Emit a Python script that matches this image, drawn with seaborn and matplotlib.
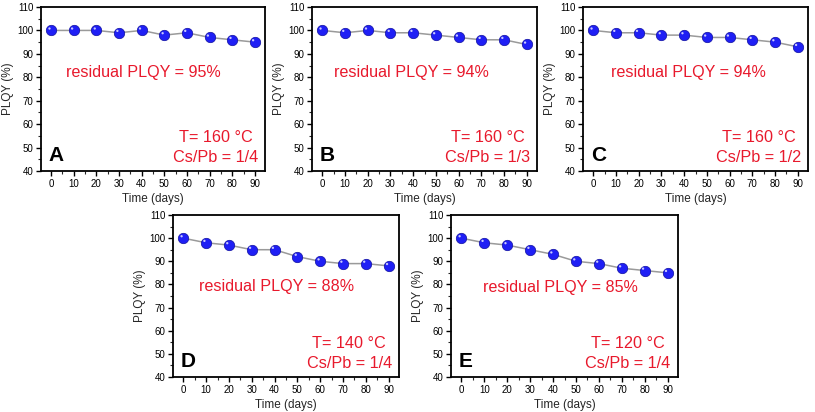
import numpy as np
import pandas as pd
import matplotlib
matplotlib.use("Agg")
import matplotlib.pyplot as plt
from matplotlib.path import Path
from matplotlib.markers import MarkerStyle
from matplotlib.ticker import MultipleLocator
import seaborn as sns

days = [0, 10, 20, 30, 40, 50, 60, 70, 80, 90]
plqy_A = [100, 100, 100, 99, 100, 98, 99, 97, 96, 95]
plqy_B = [100, 99, 100, 99, 99, 98, 97, 96, 96, 94]
plqy_C = [100, 99, 99, 98, 98, 97, 97, 96, 95, 93]
plqy_D = [100, 98, 97, 95, 95, 92, 90, 89, 89, 88]
plqy_E = [100, 98, 97, 95, 93, 90, 89, 87, 86, 85]
panel_letters = ["A", "B", "C", "D", "E"]
residual_texts = ["residual PLQY = 95%", "residual PLQY = 94%", "residual PLQY = 94%",
                  "residual PLQY = 88%", "residual PLQY = 85%"]
temp_texts = ["T= 160 °C", "T= 160 °C", "T= 160 °C", "T= 140 °C", "T= 120 °C"]
ratio_texts = ["Cs/Pb = 1/4", "Cs/Pb = 1/3", "Cs/Pb = 1/2", "Cs/Pb = 1/4", "Cs/Pb = 1/4"]
series = [plqy_A, plqy_B, plqy_C, plqy_D, plqy_E]

sns.set_style("ticks")
plt.rcParams["font.family"] = ["Liberation Sans", "DejaVu Sans"]

W, H = 815, 412
fig = plt.figure(figsize=(W / 100, H / 100), dpi=100)

# axes boxes in pixels: left, top, right, bottom
boxes = [
    (41, 7, 265, 171),
    (312, 7, 537, 171),
    (583, 7, 808, 171),
    (173, 215, 399, 377),
    (451, 215, 678, 377),
]
res_pos = [(0.455, 0.60), (0.44, 0.60), (0.47, 0.60), (0.46, 0.556), (0.48, 0.55)]

# highlight marker path (small offset circle, with invisible anchor to keep scale)
circ = Path.circle(center=(-0.32, 0.36), radius=0.22)
verts = np.vstack([[[1.0, 1.0]], [[-1.0, -1.0]], circ.vertices])
codes = np.concatenate([[Path.MOVETO, Path.MOVETO], circ.codes])
hl_marker = MarkerStyle(Path(verts, codes))

red = "#e8192c"
blue = "#1f1ff5"

for i, (b, ys) in enumerate(zip(boxes, series)):
    l, t, r, bt = b
    ax = fig.add_axes([l / W, 1 - bt / H, (r - l) / W, (bt - t) / H])
    df = pd.DataFrame({"Time (days)": days, "PLQY (%)": ys})
    sns.lineplot(data=df, x="Time (days)", y="PLQY (%)", ax=ax, color="#9a9a9a",
                 linewidth=1.1, marker="o", markersize=7.5,
                 markerfacecolor=blue, markeredgecolor="#1010a0", markeredgewidth=0.5)
    sns.scatterplot(data=df, x="Time (days)", y="PLQY (%)", ax=ax, marker=hl_marker,
                    s=58, color="#c8c8ff", edgecolor="none", linewidth=0, zorder=5)
    ax.set_xlim(-4.5, 94.5)
    ax.set_ylim(40, 110)
    ax.xaxis.set_major_locator(MultipleLocator(10))
    ax.xaxis.set_minor_locator(MultipleLocator(5))
    ax.yaxis.set_major_locator(MultipleLocator(10))
    ax.yaxis.set_minor_locator(MultipleLocator(5))
    ax.tick_params(which="major", direction="out", length=3.5, width=1.0,
                   labelsize=7, pad=2, colors="black")
    ax.tick_params(which="minor", direction="out", length=2, width=0.8)
    for sp in ax.spines.values():
        sp.set_visible(True)
        sp.set_linewidth(1.3)
        sp.set_color("black")
    ax.set_xlabel("Time (days)", fontsize=8.5, labelpad=3)
    ax.set_ylabel("PLQY (%)", fontsize=8.5, labelpad=2)
    ax.text(res_pos[i][0], res_pos[i][1], residual_texts[i], transform=ax.transAxes,
            ha="center", va="center", color=red, fontsize=11.6)
    ax.text(0.78, 0.205, temp_texts[i], transform=ax.transAxes,
            ha="center", va="center", color=red, fontsize=11.7)
    ax.text(0.78, 0.085, ratio_texts[i], transform=ax.transAxes,
            ha="center", va="center", color=red, fontsize=11.7)
    ax.text(0.035, 0.095, panel_letters[i], transform=ax.transAxes,
            ha="left", va="center", color="black", fontsize=15, fontweight="bold")

fig.savefig("out.png", dpi=100)
